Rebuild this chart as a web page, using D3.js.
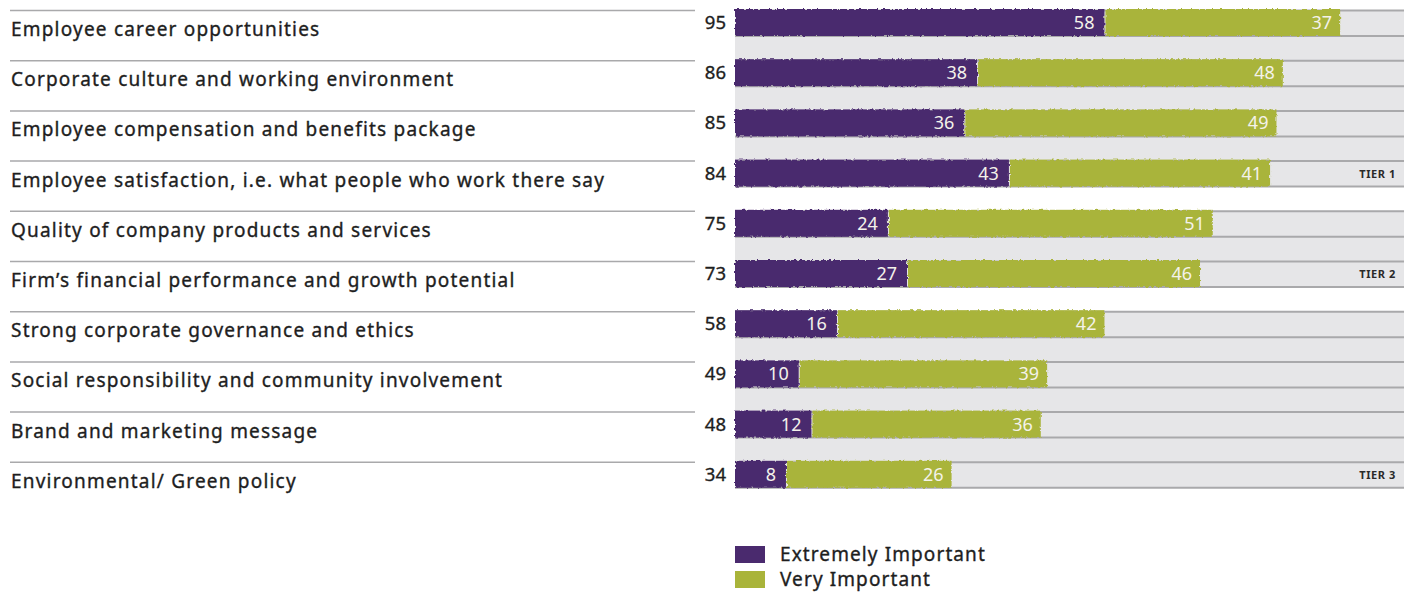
<!DOCTYPE html>
<html>
<head>
<meta charset="utf-8">
<script src="https://cdn.jsdelivr.net/npm/d3@7"></script>
<style>
  html, body { margin: 0; padding: 0; background: #fff; }
  svg { display: block; }
  text { font-family: "Noto Sans", "Open Sans", sans-serif; }
</style>
</head>
<body>
<svg id="chart" width="1404" height="592"></svg>
<script>
// Survey factors, ranked by combined share of respondents
const categories = [
  "Employee career opportunities",
  "Corporate culture and working environment",
  "Employee compensation and benefits package",
  "Employee satisfaction, i.e. what people who work there say",
  "Quality of company products and services",
  "Firm\u2019s financial performance and growth potential",
  "Strong corporate governance and ethics",
  "Social responsibility and community involvement",
  "Brand and marketing message",
  "Environmental/ Green policy"
];
const extremelyImportant = [58, 38, 36, 43, 24, 27, 16, 10, 12, 8];
const veryImportant      = [37, 48, 49, 41, 51, 46, 42, 39, 36, 26];
const totals             = [95, 86, 85, 84, 75, 73, 58, 49, 48, 34];
const seriesNames = ["Extremely Important", "Very Important"];
// Tier groupings: label and index range (first, last)
const tierLabels = ["TIER 1", "TIER 2", "TIER 3"];
const tierFirst  = [0, 4, 6];
const tierLast   = [3, 5, 9];

const PURPLE = "#4a2a6e";
const OLIVE  = "#a9b43a";
const BAND   = "#e6e6e8";
const RULE   = "#a9a9ab";
const INK    = "#1e1e1e";

const svg = d3.select("#chart");

// Rough brush-edge effect for the bars
const defs = svg.append("defs");
const f = defs.append("filter").attr("id", "rough")
  .attr("x", "-2%").attr("y", "-20%").attr("width", "104%").attr("height", "140%");
f.append("feTurbulence").attr("type", "fractalNoise").attr("baseFrequency", "0.35")
  .attr("numOctaves", 2).attr("seed", 4).attr("result", "noise");
f.append("feDisplacementMap").attr("in", "SourceGraphic").attr("in2", "noise")
  .attr("scale", 3.5).attr("xChannelSelector", "R").attr("yChannelSelector", "G");

const y = d3.scaleBand().domain(d3.range(categories.length)).range([10, 512]).padding(0);
const x = d3.scaleLinear().domain([0, 100]).range([735, 1372]);
const barH = 26;

// Grey tier bands on the right
tierLabels.forEach((t, i) => {
  const top = y(tierFirst[i]);
  const bottom = y(tierLast[i]) + barH;
  svg.append("rect").attr("x", x(0)).attr("y", top)
    .attr("width", 1404 - x(0)).attr("height", bottom - top).attr("fill", BAND);
});

// Rules: left under-label rules and band rules at bar top/bottom
const rows = svg.append("g").selectAll("g").data(categories).join("g")
  .attr("transform", (d, i) => `translate(0,${y(i)})`);

rows.append("line").attr("x1", 10).attr("x2", 695).attr("y1", 0.5).attr("y2", 0.5)
  .attr("stroke", RULE).attr("stroke-width", 1.5);
rows.append("line").attr("x1", x(0)).attr("x2", 1404).attr("y1", 0.5).attr("y2", 0.5)
  .attr("stroke", RULE).attr("stroke-width", 2);
rows.append("line").attr("x1", x(0)).attr("x2", 1404).attr("y1", barH).attr("y2", barH)
  .attr("stroke", RULE).attr("stroke-width", 2);

// Category labels
rows.append("text").attr("x", 11).attr("y", 26)
  .attr("font-size", 19).attr("letter-spacing", 1.2)
  .attr("fill", INK).attr("stroke", INK).attr("stroke-width", 0.35)
  .text(d => d);

// Totals
rows.append("text").attr("x", 726).attr("y", 19).attr("text-anchor", "end")
  .attr("font-size", 18.5).attr("fill", INK).attr("stroke", INK).attr("stroke-width", 0.35)
  .text((d, i) => totals[i]);

// Stacked bars
const bars = svg.append("g").attr("filter", "url(#rough)");
bars.selectAll("rect.ext").data(extremelyImportant).join("rect").attr("class", "ext")
  .attr("x", x(0)).attr("y", (d, i) => y(i) - 1)
  .attr("width", d => x(d) - x(0)).attr("height", barH + 1).attr("fill", PURPLE);
bars.selectAll("rect.very").data(veryImportant).join("rect").attr("class", "very")
  .attr("x", (d, i) => x(extremelyImportant[i]) + 1).attr("y", (d, i) => y(i) - 1)
  .attr("width", (d, i) => x(extremelyImportant[i] + d) - x(extremelyImportant[i]) - 1)
  .attr("height", barH + 1).attr("fill", OLIVE);

// Segment value labels
const labels = svg.append("g").attr("font-size", 18).attr("fill", "#f4f2ea")
  .attr("text-anchor", "end");
labels.selectAll("text.ext").data(extremelyImportant).join("text").attr("class", "ext")
  .attr("x", d => x(d) - 10).attr("y", (d, i) => y(i) + 19).text(d => d);
labels.selectAll("text.very").data(veryImportant).join("text").attr("class", "very")
  .attr("x", (d, i) => x(extremelyImportant[i] + d) - 8).attr("y", (d, i) => y(i) + 19)
  .text(d => d);

// Tier labels on each tier's last row
tierLabels.forEach((t, i) => {
  svg.append("text").attr("x", 1396).attr("y", y(tierLast[i]) + 17)
    .attr("text-anchor", "end").attr("font-size", 11).attr("font-weight", "bold")
    .attr("letter-spacing", 0.6).attr("fill", "#2a2a2a").text(t);
});

// Legend
const legend = svg.append("g").attr("transform", "translate(735,546)");
const legItems = legend.selectAll("g").data(seriesNames).join("g")
  .attr("transform", (d, i) => `translate(0,${i * 25})`);
legItems.append("rect").attr("width", 30).attr("height", 17)
  .attr("fill", (d, i) => i === 0 ? PURPLE : OLIVE);
legItems.append("text").attr("x", 45).attr("y", 15).attr("font-size", 19)
  .attr("letter-spacing", 1.1).attr("fill", INK).attr("stroke", INK).attr("stroke-width", 0.35)
  .text(d => d);
</script>
</body>
</html>
